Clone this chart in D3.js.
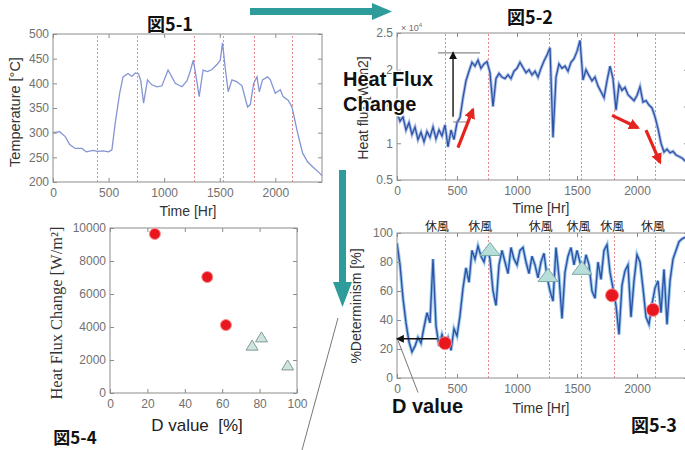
<!DOCTYPE html>
<html>
<head>
<meta charset="utf-8">
<script src="https://cdn.jsdelivr.net/npm/d3@7"></script>
<style>
  body { margin: 0; background: #fff; }
  svg { display: block; }
</style>
</head>
<body>
<script>
/* DATA */
// hours where the blast furnace was stopped (休風)
const shutdownHours = [400, 760, 1265, 1530, 1810, 2150];
const shutdownLabel = "休風";

// 図5-1 temperature
const tempHours = [0, 60, 110, 150, 200, 260, 300, 360, 400, 450, 500, 530, 560, 600, 630, 675, 710, 740, 770, 790,
  815, 850, 890, 935, 980, 1035, 1100, 1160, 1205, 1235, 1262, 1290, 1315, 1350, 1390, 1430, 1475, 1505, 1525, 1550,
  1576, 1610, 1655, 1700, 1750, 1775, 1805, 1835, 1856, 1885, 1930, 1955, 2000, 2045, 2070, 2115, 2150, 2200, 2245, 2290,
  2340, 2390, 2420];
const tempValues = [300, 302, 292, 276, 268, 268, 261, 264, 262, 263, 261, 265, 320, 380, 413, 420, 414, 421, 419, 405,
  360, 407, 397, 393, 395, 427, 400, 393, 405, 425, 447, 410, 373, 427, 424, 428, 438, 447, 482, 430,
  383, 407, 403, 395, 352, 357, 400, 413, 383, 407, 413, 407, 380, 387, 373, 366, 352, 300, 259, 241,
  230, 220, 213];

// 図5-2 / 図5-3 share the same sample hours
const timeHours = [0, 25, 50, 75, 100, 125, 150, 175, 200, 225, 250, 275, 300, 325, 350, 375, 400, 425, 450, 475,
  500, 525, 550, 575, 600, 625, 650, 675, 700, 725, 750, 775, 800, 825, 850, 875, 900, 925, 950, 975,
  1000, 1025, 1050, 1075, 1100, 1125, 1150, 1175, 1200, 1225, 1250, 1275, 1300, 1325, 1350, 1375, 1400, 1425, 1450, 1475,
  1500, 1525, 1550, 1575, 1600, 1625, 1650, 1675, 1700, 1725, 1750, 1775, 1800, 1825, 1850, 1875, 1900, 1925, 1950, 1975,
  2000, 2025, 2050, 2075, 2100, 2125, 2150, 2175, 2200, 2225, 2250, 2275, 2300, 2325, 2350, 2375, 2400, 2425];

// heat flux, x10^4 W/m2
const fluxValues = [1.42, 1.30, 1.36, 1.18, 1.28, 1.12, 1.22, 1.05, 1.15, 1.02, 1.16, 1.08, 1.22, 1.06, 1.18, 1.10, 1.25, 0.95, 1.18, 1.05,
  1.28, 1.35, 1.62, 1.85, 1.98, 2.10, 2.05, 2.13, 2.02, 2.08, 2.11, 1.96, 1.50, 1.88, 1.95, 1.90, 1.88, 1.93, 1.88, 1.98,
  2.02, 2.10, 2.03, 1.96, 2.00, 1.93, 1.98, 1.90, 2.02, 2.12, 2.20, 2.30, 1.08, 1.90, 2.08, 2.02, 2.05, 1.98, 2.10, 2.15,
  2.25, 2.40, 1.86, 2.00, 1.92, 1.85, 1.90, 1.78, 1.70, 1.62, 1.85, 2.05, 1.88, 1.45, 1.80, 1.72, 1.76, 1.66, 1.62, 1.58,
  1.65, 1.77, 1.56, 1.58, 1.52, 1.48, 1.36, 1.20, 1.00, 0.88, 0.92, 0.87, 0.89, 0.84, 0.82, 0.80, 0.76, 0.75];

// %Determinism
const detValues = [93, 78, 55, 38, 25, 18, 22, 28, 24, 35, 45, 38, 82, 36, 22, 30, 24, 28, 19, 34,
  29, 43, 62, 76, 66, 88, 82, 91, 84, 80, 90, 82, 60, 50, 78, 88, 80, 72, 90, 82,
  78, 88, 90, 80, 72, 84, 78, 69, 80, 86, 70, 60, 53, 90, 70, 41, 73, 84, 90, 78,
  88, 80, 73, 85, 78, 60, 55, 80, 68, 88, 92, 73, 62, 50, 30, 64, 74, 78, 42, 67,
  85, 80, 62, 42, 37, 51, 62, 67, 45, 75, 37, 67, 82, 88, 94, 96, 97, 97];

// markers on 図5-3 : [hour, %]
const detCircles = [[400, 24], [1792, 57], [2133, 47]];
const detTriangles = [[775, 89], [1258, 71], [1542, 76]];

// 図5-4 : D value [%] vs heat flux change [W/m2]
const scatterCircles = [[24, 9640], [52, 7030], [62, 4120]];
const scatterTriangles = [[76, 2900], [81, 3400], [95, 1700]];

const tempTicks = [200, 250, 300, 350, 400, 450, 500];
const timeTicks = [0, 500, 1000, 1500, 2000];
const fluxTicks = [0.5, 1, 1.5, 2, 2.5];
const detTicks = [0, 20, 40, 60, 80, 100];
const dTicks = [0, 20, 40, 60, 80, 100];
const hfTicks = [0, 2000, 4000, 6000, 8000, 10000];

/* SETUP */
const sans = "'Liberation Sans', Arial, sans-serif";
const cjk = "'Noto Sans CJK JP', 'Liberation Sans', sans-serif";
const frameColor = "#8c8c8c";
const tickColor = "#707070";
const teal = "#2d9c9a";

const svg = d3.select("body").append("svg")
  .attr("width", 685)
  .attr("height", 450);

const defs = svg.append("defs");
function addArrowMarker(id, color, size) {
  defs.append("marker")
    .attr("id", id)
    .attr("viewBox", "0 0 10 10")
    .attr("refX", 8).attr("refY", 5)
    .attr("markerWidth", size).attr("markerHeight", size)
    .attr("markerUnits", "userSpaceOnUse")
    .attr("orient", "auto")
    .append("path")
    .attr("d", "M0,0 L10,5 L0,10 z")
    .attr("fill", color);
}
addArrowMarker("blackHead", "#111", 8);
addArrowMarker("redHead", "#e52420", 11);

function addClip(id, x, y) {
  defs.append("clipPath").attr("id", id)
    .append("rect")
    .attr("x", x.range()[0]).attr("y", y.range()[1])
    .attr("width", x.range()[1] - x.range()[0])
    .attr("height", y.range()[0] - y.range()[1]);
}

// matlab style box with inward ticks on all four sides
function drawBox(x, y, xTicks, yTicks, yFormat) {
  let g = svg.append("g");
  let x0 = x.range()[0], x1 = x.range()[1];
  let y0 = y.range()[0], y1 = y.range()[1];

  g.append("rect")
    .attr("x", x0).attr("y", y1)
    .attr("width", x1 - x0).attr("height", y0 - y1)
    .attr("fill", "none").attr("stroke", frameColor).attr("stroke-width", 1);

  g.append("g").attr("transform", `translate(0,${y0})`)
    .call(d3.axisBottom(x).tickValues(xTicks).tickSize(-4).tickSizeOuter(0).tickPadding(6).tickFormat(d3.format("d")));
  g.append("g").attr("transform", `translate(0,${y1})`)
    .call(d3.axisTop(x).tickValues(xTicks).tickSize(-4).tickSizeOuter(0).tickFormat(""));
  g.append("g").attr("transform", `translate(${x0},0)`)
    .call(d3.axisLeft(y).tickValues(yTicks).tickSize(-4).tickSizeOuter(0).tickPadding(4).tickFormat(yFormat));
  g.append("g").attr("transform", `translate(${x1},0)`)
    .call(d3.axisRight(y).tickValues(yTicks).tickSize(-4).tickSizeOuter(0).tickFormat(""));

  g.selectAll(".domain").remove();
  g.selectAll(".tick line").attr("stroke", frameColor);
  g.selectAll(".tick text")
    .style("font-family", sans)
    .style("font-size", "12px")
    .attr("fill", tickColor);
  return g;
}

function drawShutdownLines(x, y) {
  svg.append("g").selectAll("line")
    .data(shutdownHours)
    .join("line")
    .attr("x1", d => Math.round(x(d)) + 0.5).attr("x2", d => Math.round(x(d)) + 0.5)
    .attr("y1", y.range()[0]).attr("y2", y.range()[1])
    .attr("stroke", "#e88a8a")
    .attr("stroke-width", 1)
    .attr("stroke-dasharray", "2,2");
}

function addText(x, y, txt, size, opts = {}) {
  let t = svg.append("text")
    .attr("x", x).attr("y", y)
    .text(txt)
    .style("font-family", opts.family || sans)
    .style("font-size", size + "px")
    .style("font-weight", opts.weight || "normal")
    .style("white-space", "pre")
    .attr("fill", opts.fill || "#222")
    .attr("text-anchor", opts.anchor || "middle");
  if (opts.rotate) t.attr("transform", `rotate(-90,${x},${y})`);
  if (opts.halo) {
    t.attr("stroke", "#fff").attr("stroke-width", opts.halo)
      .attr("paint-order", "stroke").attr("stroke-linejoin", "round");
  }
  return t;
}

function drawTriangle(cx, cy, w, h, fill, stroke) {
  svg.append("path")
    .attr("d", `M${cx - w / 2},${cy + h / 2} L${cx},${cy - h / 2} L${cx + w / 2},${cy + h / 2} Z`)
    .attr("fill", fill).attr("stroke", stroke).attr("stroke-width", 1);
}

/* 図5-1 */
const x1 = d3.scaleLinear().domain([0, 2420]).range([53, 322]);
const y1 = d3.scaleLinear().domain([200, 500]).range([182, 34]);
drawShutdownLines(x1, y1);
svg.append("path")
  .datum(tempHours.map((h, i) => [h, tempValues[i]]))
  .attr("d", d3.line().x(d => x1(d[0])).y(d => y1(d[1])))
  .attr("fill", "none")
  .attr("stroke", "#8494d4")
  .attr("stroke-width", 1.3);
drawBox(x1, y1, timeTicks, tempTicks, d3.format("d"));
addText(20, 112, "Temperature [°C]", 14.5, {rotate: true, fill: "#333"});
addText(188, 216, "Time [Hr]", 14, {fill: "#333"});
addText(170, 31, "図5-1", 18, {family: cjk, weight: "bold", fill: "#111"});

/* 図5-2 */
const x2 = d3.scaleLinear().domain([0, 2425]).range([397, 688]);
const y2 = d3.scaleLinear().domain([0.5, 2.5]).range([180, 33]);
addClip("clip2", x2, y2);
drawShutdownLines(x2, y2);
let fluxLine = d3.line().x(d => x2(d[0])).y(d => y2(d[1]));
let fluxData = timeHours.map((h, i) => [h, fluxValues[i]]);
svg.append("path").datum(fluxData)
  .attr("d", fluxLine).attr("clip-path", "url(#clip2)")
  .attr("fill", "none").attr("stroke", "#a9bfe6").attr("stroke-width", 3.2);
svg.append("path").datum(fluxData)
  .attr("d", fluxLine).attr("clip-path", "url(#clip2)")
  .attr("fill", "none").attr("stroke", "#2f52a6").attr("stroke-width", 1.3);
drawBox(x2, y2, timeTicks, fluxTicks, d3.format("~g"));
addText(368, 108, "Heat flux [W/m2]", 14, {rotate: true, fill: "#333"});
addText(541, 213, "Time [Hr]", 14, {fill: "#333"});
addText(530, 24, "図5-2", 18, {family: cjk, weight: "bold", fill: "#111"});
svg.append("text")
  .attr("x", 401).attr("y", 31)
  .style("font-family", sans).style("font-size", "9px")
  .attr("fill", tickColor)
  .text("× 10")
  .append("tspan").attr("dy", -4).style("font-size", "6px").text("4");

// heat flux change annotation
svg.append("line")
  .attr("x1", x2(342)).attr("x2", x2(692))
  .attr("y1", y2(2.23)).attr("y2", y2(2.23))
  .attr("stroke", "#888").attr("stroke-width", 1.2);
svg.append("line")
  .attr("x1", x2(467)).attr("x2", x2(583))
  .attr("y1", y2(1.29)).attr("y2", y2(1.29))
  .attr("stroke", "#888").attr("stroke-width", 1);
svg.append("line")
  .attr("x1", x2(467)).attr("x2", x2(467))
  .attr("y1", y2(1.36)).attr("y2", y2(2.23))
  .attr("stroke", "#111").attr("stroke-width", 1.4)
  .attr("marker-end", "url(#blackHead)");
addText(343, 86, "Heat Flux", 20, {weight: "bold", anchor: "start", fill: "#111", halo: 3});
addText(343, 111, "Change", 20, {weight: "bold", anchor: "start", fill: "#111", halo: 3});

// red trend arrows
const redArrows = [[[508, 0.94], [633, 1.46]], [[1792, 1.38], [2008, 1.21]], [[2075, 1.18], [2192, 0.74]]];
svg.append("g").selectAll("line")
  .data(redArrows)
  .join("line")
  .attr("x1", d => x2(d[0][0])).attr("y1", d => y2(d[0][1]))
  .attr("x2", d => x2(d[1][0])).attr("y2", d => y2(d[1][1]))
  .attr("stroke", "#e52420").attr("stroke-width", 3.2)
  .attr("marker-end", "url(#redHead)");

/* 図5-3 */
const x3 = d3.scaleLinear().domain([0, 2425]).range([397, 688]);
const y3 = d3.scaleLinear().domain([0, 100]).range([378, 233]);
addClip("clip3", x3, y3);
drawShutdownLines(x3, y3);
let detLine = d3.line().x(d => x3(d[0])).y(d => y3(d[1]));
let detData = timeHours.map((h, i) => [h, detValues[i]]);
svg.append("path").datum(detData)
  .attr("d", detLine).attr("clip-path", "url(#clip3)")
  .attr("fill", "none").attr("stroke", "#9cc9ea").attr("stroke-width", 3.4);
svg.append("path").datum(detData)
  .attr("d", detLine).attr("clip-path", "url(#clip3)")
  .attr("fill", "none").attr("stroke", "#2f52a6").attr("stroke-width", 1.4);
drawBox(x3, y3, timeTicks, detTicks, d3.format("d"));
addText(361, 306, "%Determinism [%]", 14, {rotate: true, fill: "#333"});
addText(541, 413, "Time [Hr]", 14, {fill: "#333"});

svg.append("g").selectAll("text")
  .data(shutdownHours)
  .join("text")
  .attr("x", (d, i) => x3(d) - (i < 3 ? 8 : 2))
  .attr("y", 231)
  .attr("text-anchor", "middle")
  .style("font-family", cjk)
  .style("font-size", "12px")
  .attr("fill", "#222")
  .text(shutdownLabel);

for (let t of detTriangles) drawTriangle(x3(t[0]), y3(t[1]), 20, 13, "#b9dfdc", "#7aa9a4");
svg.append("g").selectAll("circle")
  .data(detCircles)
  .join("circle")
  .attr("cx", d => x3(d[0])).attr("cy", d => y3(d[1]))
  .attr("r", 6.5)
  .attr("fill", "#e8161e").attr("stroke", "#ff8a8a").attr("stroke-width", 1);

// D value arrow and pointer
svg.append("line")
  .attr("x1", x3(333)).attr("x2", x3(4))
  .attr("y1", y3(27)).attr("y2", y3(27))
  .attr("stroke", "#111").attr("stroke-width", 1.5)
  .attr("marker-end", "url(#blackHead)");
svg.append("line")
  .attr("x1", x3(8)).attr("y1", y3(26))
  .attr("x2", x3(175)).attr("y2", y3(-10))
  .attr("stroke", "#777").attr("stroke-width", 1);
addText(392, 413, "D value", 20, {weight: "bold", anchor: "start", fill: "#111"});
addText(654, 432, "図5-3", 18, {family: cjk, weight: "bold", fill: "#111"});

/* 図5-4 */
const x4 = d3.scaleLinear().domain([0, 100]).range([110, 297]);
const y4 = d3.scaleLinear().domain([0, 10000]).range([393, 228]);
drawBox(x4, y4, dTicks, hfTicks, d3.format("d"));
for (let t of scatterTriangles) drawTriangle(x4(t[0]), y4(t[1]), 12, 10, "#cfe3df", "#7f9c97");
svg.append("g").selectAll("circle")
  .data(scatterCircles)
  .join("circle")
  .attr("cx", d => x4(d[0])).attr("cy", d => y4(d[1]))
  .attr("r", 5.5)
  .attr("fill", "#e8161e").attr("stroke", "#ff8a8a").attr("stroke-width", 1);
addText(62, 313, "Heat Flux Change [W/m²]", 16.5, {rotate: true, family: "'Liberation Serif', 'Times New Roman', serif", fill: "#333"});
addText(197, 431, "D value  [%]", 17, {fill: "#222"});
addText(75, 444, "図5-4", 17, {family: cjk, weight: "bold", fill: "#111"});

/* flow arrows between panels */
svg.append("path")
  .attr("d", "M250,8 L372,8 L372,3 L392,11.5 L372,20 L372,15 L250,15 Z")
  .attr("fill", teal);
svg.append("path")
  .attr("d", "M339,170 L346,170 L346,282 L352,282 L342.5,307 L333,282 L339,282 Z")
  .attr("fill", teal);
svg.append("line")
  .attr("x1", 338).attr("y1", 318)
  .attr("x2", 302).attr("y2", 450)
  .attr("stroke", "#777").attr("stroke-width", 1);
</script>
</body>
</html>
